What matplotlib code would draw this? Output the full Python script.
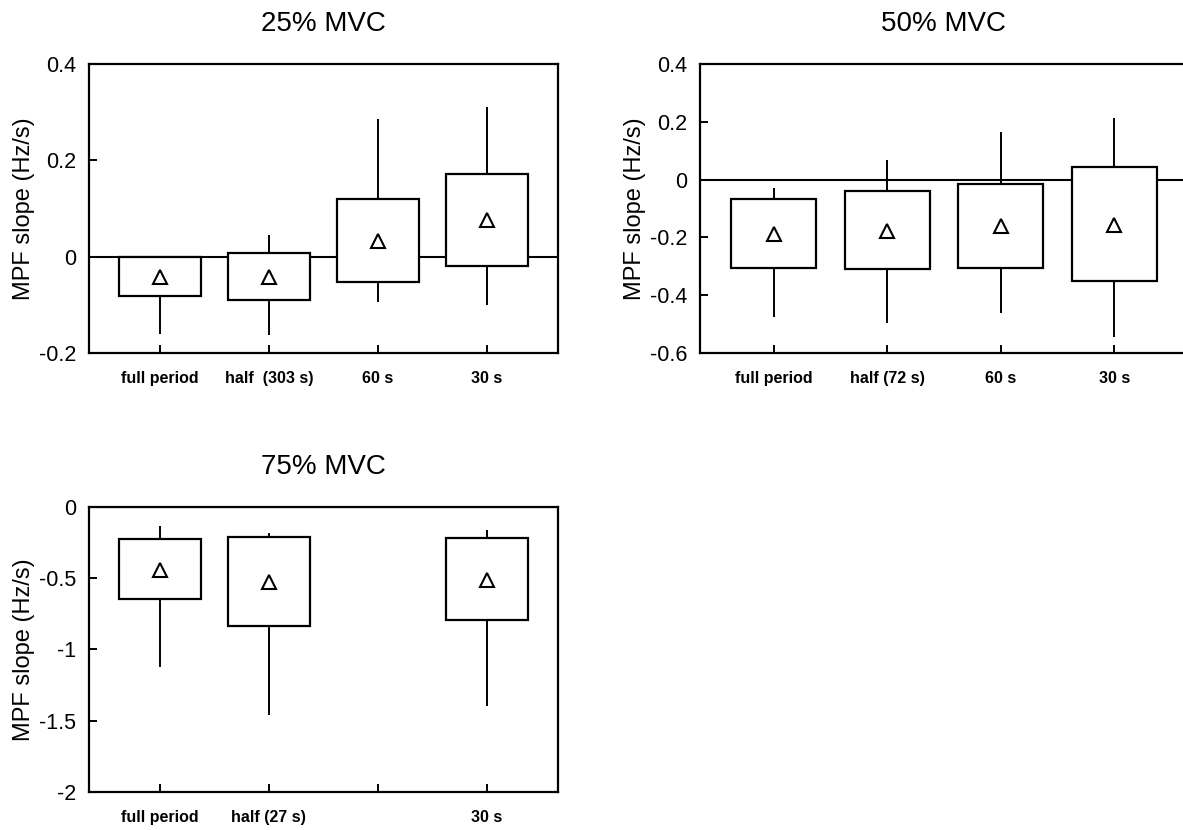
import matplotlib
matplotlib.use('Agg')
import matplotlib.pyplot as plt
from matplotlib.ticker import FuncFormatter

plt.rcParams['font.family'] = ['Liberation Sans', 'DejaVu Sans']

# 条件ごとのカテゴリ
positions = [1, 2, 3, 4]

# 25% MVC
labels_25 = ['full period', 'half  (303 s)', '60 s', '30 s']
mean_25 = [-0.043, -0.042, 0.033, 0.076]
box_lo_25 = [-0.081, -0.091, -0.053, -0.020]
box_hi_25 = [0.0, 0.008, 0.119, 0.172]
wh_lo_25 = [-0.160, -0.163, -0.094, -0.101]
wh_hi_25 = [0.0, 0.044, 0.285, 0.311]

# 50% MVC
labels_50 = ['full period', 'half (72 s)', '60 s', '30 s']
mean_50 = [-0.188, -0.177, -0.162, -0.157]
box_lo_50 = [-0.305, -0.311, -0.305, -0.351]
box_hi_50 = [-0.066, -0.039, -0.015, 0.045]
wh_lo_50 = [-0.475, -0.496, -0.462, -0.545]
wh_hi_50 = [-0.030, 0.067, 0.164, 0.214]

# 75% MVC (60 s は無し)
labels_75 = ['full period', 'half (27 s)', '', '30 s']
pos_75 = [1, 2, 4]
mean_75 = [-0.444, -0.528, -0.514]
box_lo_75 = [-0.647, -0.832, -0.794]
box_hi_75 = [-0.227, -0.213, -0.215]
wh_lo_75 = [-1.126, -1.458, -1.395]
wh_hi_75 = [-0.133, -0.182, -0.161]


def draw_panel(ax, pos, mean, blo, bhi, wlo, whi, labels, title, ylim, yticks):
    ax.axhline(0, color='black', linewidth=1.5, zorder=1)
    ax.vlines(pos, wlo, blo, color='black', linewidth=1.4, zorder=2)
    ax.vlines(pos, bhi, whi, color='black', linewidth=1.4, zorder=2)
    heights = [h - l for h, l in zip(bhi, blo)]
    ax.bar(pos, heights, bottom=blo, width=0.75, color='white',
           edgecolor='black', linewidth=1.6, zorder=3)
    ax.plot(pos, mean, linestyle='none', marker='^', markersize=10.5,
            markerfacecolor='white', markeredgecolor='black',
            markeredgewidth=1.5, zorder=4)
    ax.set_xlim(0.35, 4.65)
    ax.set_ylim(*ylim)
    ax.set_yticks(yticks)
    ax.yaxis.set_major_formatter(FuncFormatter(lambda v, p: '%g' % v))
    ax.set_xticks(positions)
    ax.set_xticklabels(labels, fontsize=11.5, fontweight='bold')
    ax.tick_params(axis='both', direction='in', length=6, width=1.4,
                   top=False, right=False)
    ax.tick_params(axis='x', pad=13)
    ax.tick_params(axis='y', labelsize=15.5, pad=9)
    for s in ax.spines.values():
        s.set_linewidth(1.6)
    ax.set_ylabel('MPF slope (Hz/s)', fontsize=17, labelpad=3)
    ax.set_title(title, fontsize=20, pad=24)


fig = plt.figure(figsize=(11.83, 8.3), dpi=100)
ax1 = fig.add_axes([0.0752, 0.5747, 0.3964, 0.3482])
# 右上のパネルは図の右端で切れている
ax2 = fig.add_axes([0.5917, 0.5747, 0.4125, 0.3482])
ax3 = fig.add_axes([0.0752, 0.0458, 0.3964, 0.3434])

draw_panel(ax1, positions, mean_25, box_lo_25, box_hi_25, wh_lo_25, wh_hi_25,
           labels_25, '25% MVC', (-0.2, 0.4), [-0.2, 0, 0.2, 0.4])
draw_panel(ax2, positions, mean_50, box_lo_50, box_hi_50, wh_lo_50, wh_hi_50,
           labels_50, '50% MVC', (-0.6, 0.4), [-0.6, -0.4, -0.2, 0, 0.2, 0.4])
draw_panel(ax3, pos_75, mean_75, box_lo_75, box_hi_75, wh_lo_75, wh_hi_75,
           labels_75, '75% MVC', (-2, 0), [-2, -1.5, -1, -0.5, 0])

fig.savefig('out.png', dpi=100)
